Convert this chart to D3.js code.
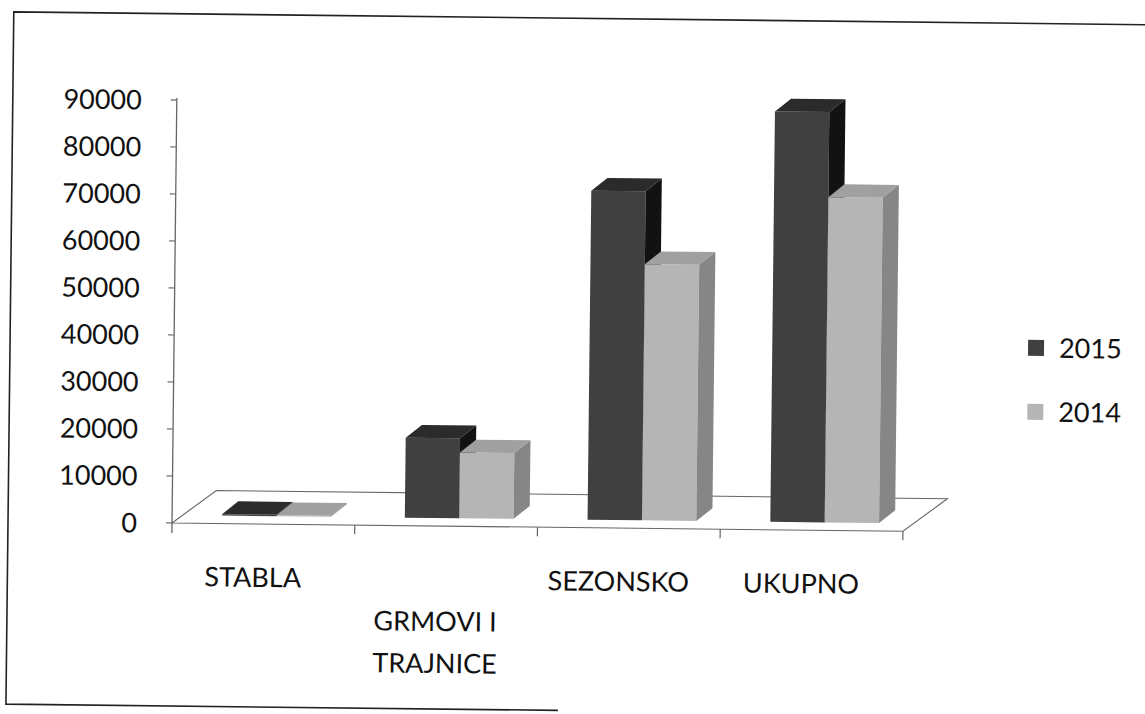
<!DOCTYPE html>
<html>
<head>
<meta charset="utf-8">
<script src="https://cdn.jsdelivr.net/npm/d3@7"></script>
<style>
    html, body { margin: 0; padding: 0; background: #fff; }
    svg { display: block; }
    text { font-family: Lato, "Open Sans", sans-serif; fill: #111; }
</style>
</head>
<body>
<div class="vis"></div>
<script>
    const categories = ["STABLA", "GRMOVI I TRAJNICE", "SEZONSKO", "UKUPNO"];
    const categoryLines = [["STABLA"], ["GRMOVI I", "TRAJNICE"], ["SEZONSKO"], ["UKUPNO"]];
    const categoryRows = [0, 1, 0, 0];
    const seriesNames = ["2015", "2014"];
    const values2015 = [300, 17000, 70000, 87300];
    const values2014 = [200, 14000, 54500, 69200];
    const yTicks = [0, 10000, 20000, 30000, 40000, 50000, 60000, 70000, 80000, 90000];

    const dims = {
        width: 1145,
        height: 714,
        plot: { left: 172, right: 903, zero: 523, top: 100 },
        floorDepth: [44, -33],
        barShift: [13, -8],
        barDepth: [16, -13],
        tilt: 0.65
    };

    const colors = {
        "2015": { front: "#404040", top: "#2b2b2b", side: "#121212" },
        "2014": { front: "#b5b5b5", top: "#a0a0a0", side: "#868686" }
    };

    const svg = d3.select(".vis").append("svg")
        .attr("width", dims.width)
        .attr("height", dims.height);

    // the scan is slightly turned, so everything sits in one rotated group
    const g = svg.append("g")
        .attr("transform", `rotate(${dims.tilt}, ${dims.plot.left}, ${dims.plot.zero})`);

    // page frame
    g.append("path")
        .attr("d", "M 1300 13.7 L 8 13.7 L 8 706 L 560 706")
        .attr("fill", "none")
        .attr("stroke", "#222")
        .attr("stroke-width", 1.6);

    const x0 = d3.scaleBand()
        .domain(categories)
        .range([dims.plot.left, dims.plot.right]);

    const x1 = d3.scaleBand()
        .domain(seriesNames)
        .range([0, x0.bandwidth()])
        .paddingOuter(0.68);

    const y = d3.scaleLinear()
        .domain([0, 90000])
        .range([dims.plot.zero, dims.plot.top]);

    const [fdx, fdy] = dims.floorDepth;
    const p = dims.plot;

    // floor
    g.append("polygon")
        .attr("points", [
            [p.left, p.zero], [p.right, p.zero],
            [p.right + fdx, p.zero + fdy], [p.left + fdx, p.zero + fdy]
        ].map(d => d.join(",")).join(" "))
        .attr("fill", "#fff")
        .attr("stroke", "#666")
        .attr("stroke-width", 1.1);

    // value axis
    g.append("line")
        .attr("x1", p.left).attr("x2", p.left)
        .attr("y1", y(90000) - 2).attr("y2", p.zero + 10)
        .attr("stroke", "#666").attr("stroke-width", 1.3);

    g.selectAll(".ytick")
        .data(yTicks)
        .enter().append("line")
        .attr("x1", p.left - 6).attr("x2", p.left)
        .attr("y1", d => y(d)).attr("y2", d => y(d))
        .attr("stroke", "#666").attr("stroke-width", 1.2);

    g.selectAll(".ylabel")
        .data(yTicks)
        .enter().append("text")
        .attr("x", 137)
        .attr("y", d => y(d))
        .attr("dy", "0.36em")
        .attr("text-anchor", "end")
        .style("font-size", "27px")
        .text(d => d);

    // category ticks
    const boundaries = categories.map(c => x0(c) + x0.bandwidth());
    g.selectAll(".xtick")
        .data(boundaries)
        .enter().append("line")
        .attr("x1", d => d).attr("x2", d => d)
        .attr("y1", p.zero).attr("y2", p.zero + 9)
        .attr("stroke", "#666").attr("stroke-width", 1.2);

    // bars
    const [sx, sy] = dims.barShift;
    const [bdx, bdy] = dims.barDepth;
    const pts = arr => arr.map(d => d.join(",")).join(" ");

    categories.forEach((cat, i) => {
        const vals = { "2015": values2015[i], "2014": values2014[i] };
        seriesNames.forEach(s => {
            const c = colors[s];
            const xl = x0(cat) + x1(s) + sx;
            const xr = xl + x1.bandwidth();
            const yb = p.zero + sy;
            const yt = y(vals[s]) + sy;
            const bar = g.append("g").attr("class", "bar");

            bar.append("polygon")
                .attr("points", pts([[xl, yt], [xr, yt], [xr, yb], [xl, yb]]))
                .attr("fill", c.front);
            bar.append("polygon")
                .attr("points", pts([[xl, yt], [xr, yt], [xr + bdx, yt + bdy], [xl + bdx, yt + bdy]]))
                .attr("fill", c.top);
            bar.append("polygon")
                .attr("points", pts([[xr, yt], [xr + bdx, yt + bdy], [xr + bdx, yb + bdy], [xr, yb]]))
                .attr("fill", c.side);
        });
    });

    // category labels
    const labels = g.selectAll(".xlabel")
        .data(categories)
        .enter().append("text")
        .attr("text-anchor", "middle")
        .style("font-size", "27px");

    labels.each(function(d, i) {
        const cx = x0(d) + x0.bandwidth() / 2 - 10;
        categoryLines[i].forEach((line, j) => {
            d3.select(this).append("tspan")
                .attr("x", cx)
                .attr("y", 586 + (categoryRows[i] + j) * 42)
                .text(line);
        });
    });

    // legend
    const legend = g.selectAll(".legend")
        .data(seriesNames)
        .enter().append("g")
        .attr("transform", (d, i) => `translate(1026, ${338 + i * 64})`);

    legend.append("rect")
        .attr("x", 0).attr("y", -8)
        .attr("width", 16).attr("height", 16)
        .attr("fill", d => colors[d].front);

    legend.append("text")
        .attr("x", 31)
        .attr("dy", "0.36em")
        .style("font-size", "27px")
        .text(d => d);
</script>
</body>
</html>
